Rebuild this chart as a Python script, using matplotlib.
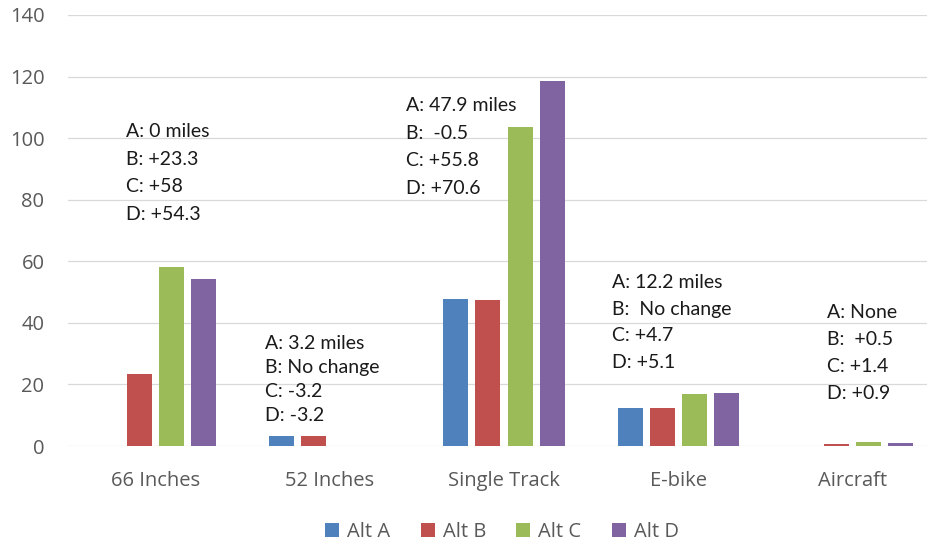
import matplotlib
matplotlib.use("Agg")
import matplotlib.pyplot as plt
import numpy as np

categories = ["66 Inches", "52 Inches", "Single Track", "E-bike", "Aircraft"]
series_names = ["Alt A", "Alt B", "Alt C", "Alt D"]
alt_a = [0, 3.2, 47.9, 12.2, 0]
alt_b = [23.3, 3.2, 47.4, 12.2, 0.5]
alt_c = [58, 0, 103.7, 16.9, 1.4]
alt_d = [54.3, 0, 118.5, 17.3, 0.9]
colors = ["#4F81BD", "#C0504D", "#9BBB59", "#8064A2"]

notes = [
    ["A: 0 miles", "B: +23.3", "C: +58", "D: +54.3"],
    ["A: 3.2 miles", "B: No change", "C: -3.2", "D: -3.2"],
    ["A: 47.9 miles", "B:  -0.5", "C: +55.8", "D: +70.6"],
    ["A: 12.2 miles", "B:  No change", "C: +4.7", "D: +5.1"],
    ["A: None", "B:  +0.5", "C: +1.4", "D: +0.9"],
]
# (x offset from category centre, top line y, line step) in data units
note_pos = [(-0.17, 102.0, 8.9), (-0.37, 33.4, 7.8), (-0.56, 110.6, 9.0),
            (-0.38, 53.2, 8.7), (-0.15, 43.4, 8.8)]

fig = plt.figure(figsize=(9.27, 5.43), dpi=100)
ax = fig.add_axes([68 / 927, (543 - 446) / 543, (940 - 68) / 927, 431 / 543])

x = np.arange(len(categories))
width = 0.143
step = 0.184
for i, (vals, name) in enumerate(zip([alt_a, alt_b, alt_c, alt_d], series_names)):
    ax.bar(x + (i - 1.5) * step, vals, width, color=colors[i], label=name, zorder=3)

ax.set_xlim(-0.5, len(categories) - 0.5)
ax.set_ylim(0, 140)
ax.set_yticks(np.arange(0, 141, 20))
ax.grid(axis="y", color="#D9D9D9", linewidth=0.9, zorder=0)
for s in ax.spines.values():
    s.set_visible(False)
ax.tick_params(length=0)
ax.set_xticks(x)
ax.set_xticklabels(categories, fontfamily="Open Sans", fontsize=14.5, color="#595959")
ax.tick_params(axis="x", pad=18)
ax.tick_params(axis="y", pad=17)
for lbl in ax.get_yticklabels():
    lbl.set_fontfamily("Open Sans")
    lbl.set_fontsize(14.5)
    lbl.set_color("#595959")

for i, (lines, (dx, y0, dy)) in enumerate(zip(notes, note_pos)):
    for j, line in enumerate(lines):
        ax.text(i + dx, y0 - j * dy, line, fontfamily="Lato", fontsize=14,
                color="#1a1a1a", va="center", ha="left", zorder=4)

fig.legend(loc="center", bbox_to_anchor=(502 / 927, 11 / 543),
           ncol=4, frameon=False, handlelength=0.7, handleheight=0.7,
           handletextpad=0.4, columnspacing=1.5,
           prop={"family": "Open Sans", "size": 14.5})
for t in fig.legends[0].get_texts():
    t.set_color("#595959")

fig.savefig("out.png", dpi=100)
